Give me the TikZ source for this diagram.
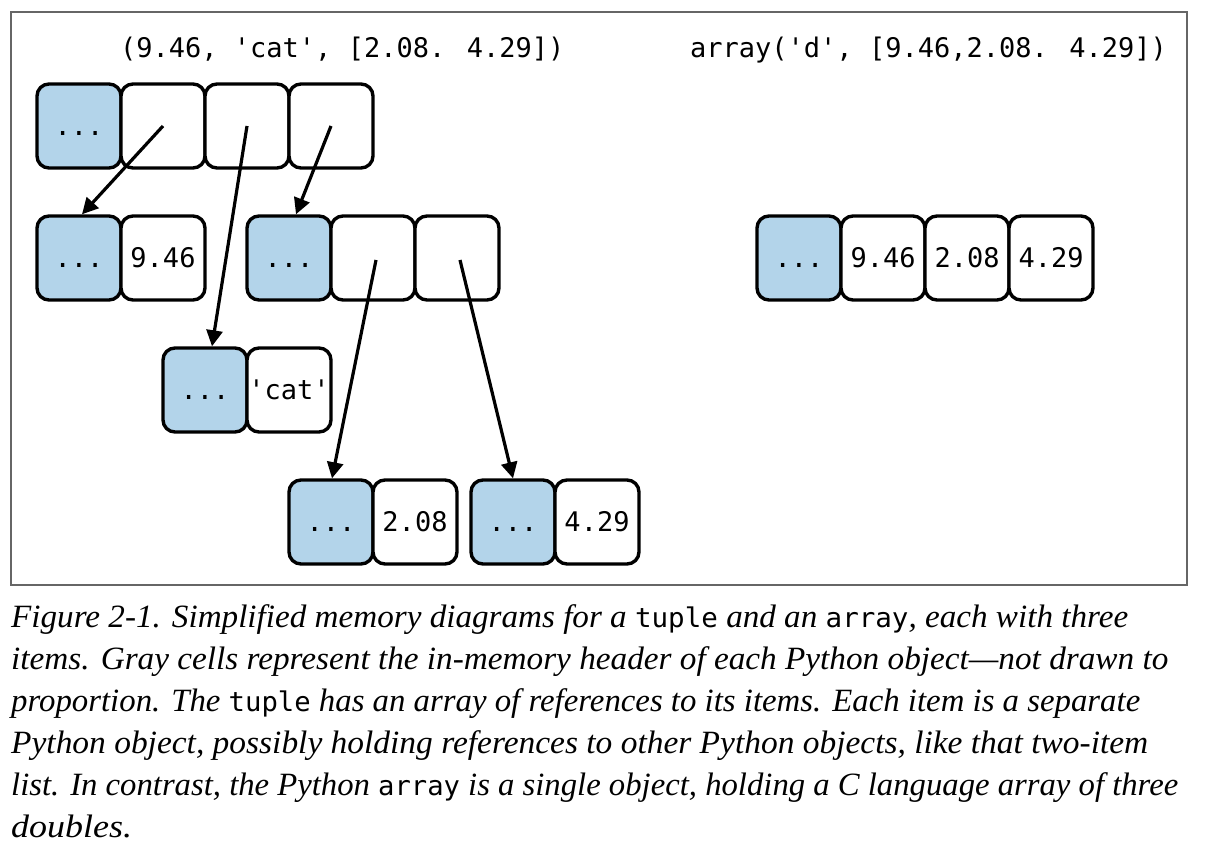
\documentclass[tikz,border=0pt]{standalone}
\usepackage{graphicx}
\usepackage{fontspec}
\setmainfont{Liberation Serif}
\newfontfamily\codefont{DejaVu Sans Mono}[Ligatures=TeXOff]
\usetikzlibrary{arrows.meta,calc}
\definecolor{hdr}{HTML}{B3D4EA}
\definecolor{framegray}{HTML}{666666}
\newcommand\cc[1]{{\upshape\codefont\fontsize{27}{42}\selectfont #1}}
\newcommand\capline[4]{\node[caption] (#1) at (11,#2) {\resizebox{#3pt}{\height}{\itshape\fontsize{32.5}{42}\selectfont #4}};}
\begin{document}
\begin{tikzpicture}[x=1pt,y=-1pt,
  cell/.style={draw=black, line width=3.4pt, rounded corners=12pt,
    minimum width=84pt, minimum height=84pt, inner sep=0pt, fill=white,
    font=\codefont\fontsize{27}{32}\selectfont, text height=19.7pt, text depth=0pt},
  hcell/.style={cell, fill=hdr},
  ref/.style={line width=3.2pt, -{Triangle[length=16pt,width=16pt]}},
  caption/.style={anchor=base west, inner sep=0pt},
  title/.style={anchor=base west, inner sep=0pt, font=\codefont\fontsize{27}{32}\selectfont},
]
\useasboundingbox (0,0) rectangle (1210,866);
\fill[white] (0,0) rectangle (1210,866);
\draw[framegray, line width=1.2pt] (11,12) rectangle (1187,585);

\node[title] (ttitle) at (120,58) {(9.46, 'cat', [2.08. 4.29])};
\node[title] (atitle) at (690,58) {array('d', [9.46,2.08. 4.29])};

% tuple
\node[hcell] (th) at (79,126) {...};
\node[cell] (t1) at (163,126) {};
\node[cell] (t2) at (247,126) {};
\node[cell] (t3) at (331,126) {};
% float
\node[hcell] (fh) at (79,258) {...};
\node[cell] (fv) at (163,258) {9.46};
% list
\node[hcell] (lh) at (289,258) {...};
\node[cell] (l1) at (373,258) {};
\node[cell] (l2) at (457,258) {};
% str
\node[hcell] (sh) at (205,390) {...};
\node[cell] (sv) at (289,390) {'cat'};
% floats in list
\node[hcell] (ah) at (331,522) {...};
\node[cell] (av) at (415,522) {2.08};
\node[hcell] (bh) at (513,522) {...};
\node[cell] (bv) at (597,522) {4.29};
% array
\node[hcell] (rh) at (799,258) {...};
\node[cell] (r1) at (883,258) {9.46};
\node[cell] (r2) at (967,258) {2.08};
\node[cell] (r3) at (1051,258) {4.29};

\draw[ref] (t1.center) -- ($(fh.north)+(3,0)$);
\draw[ref] (t2.center) -- ($(sh.north)+(7,0)$);
\draw[ref] (t3.center) -- ($(lh.north)+(7,0)$);
\draw[ref] ($(l1.center)+(3,2)$) -- ($(ah.north)+(1,0)$);
\draw[ref] ($(l2.center)+(3,2)$) -- (bh.north);

\capline{c1}{627}{1117}{Figure 2-1. Simplified memory diagrams for a \cc{tuple} and an \cc{array}, each with three}
\capline{c2}{669}{1157}{items. Gray cells represent the in-memory header of each Python object---not drawn to}
\capline{c3}{711}{1129}{proportion. The \cc{tuple} has an array of references to its items. Each item is a separate}
\capline{c4}{753}{1137}{Python object, possibly holding references to other Python objects, like that two-item}
\capline{c5}{795}{1167}{list. In contrast, the Python \cc{array} is a single object, holding a C language array of three}
\capline{c6}{837}{121}{doubles.}
\end{tikzpicture}
\end{document}
